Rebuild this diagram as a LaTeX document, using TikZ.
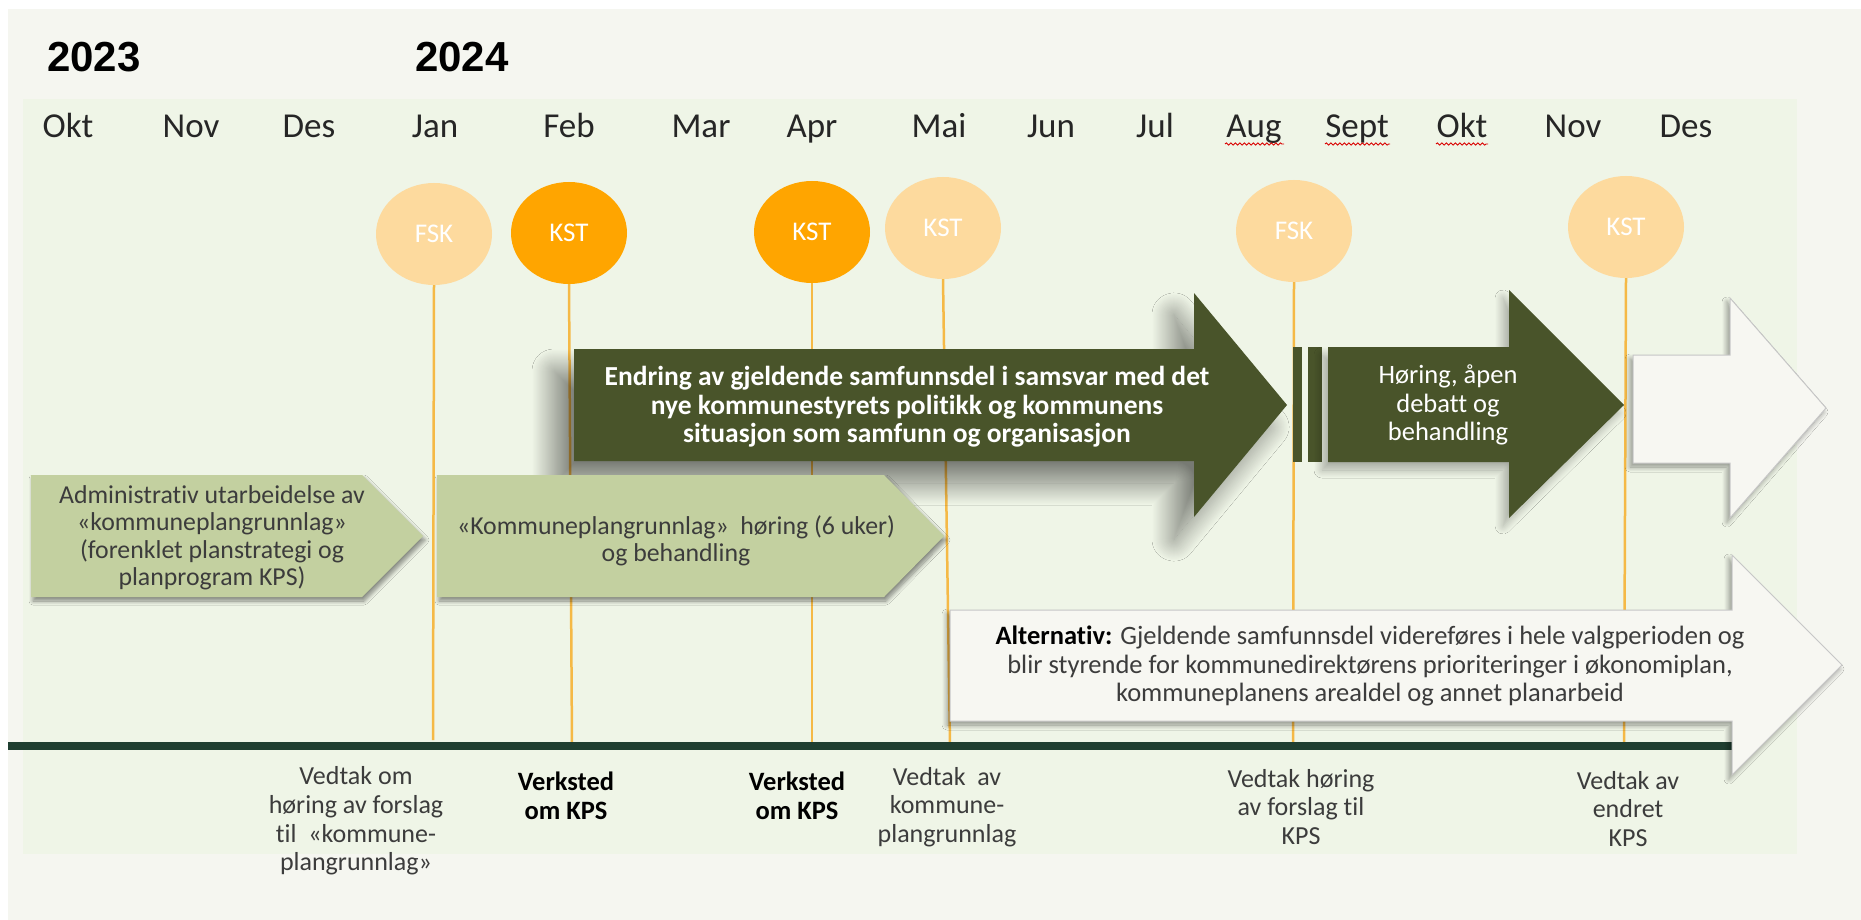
\documentclass[tikz,border=0pt]{standalone}
\usepackage{fontspec}
\setmainfont{Carlito}[Ligatures=NoCommon]
\newfontfamily\yearfont{Liberation Sans}
\usetikzlibrary{shapes.geometric,shadows,shadows.blur,decorations.pathmorphing}
\definecolor{outerbg}{RGB}{245,246,240}
\definecolor{innerbg}{RGB}{239,245,231}
\definecolor{lightorange}{RGB}{253,218,158}
\definecolor{darkorange}{RGB}{255,165,0}
\definecolor{lineorange}{RGB}{245,185,70}
\definecolor{darkolive}{RGB}{73,84,42}
\definecolor{sage}{RGB}{195,208,160}
\definecolor{timelinegreen}{RGB}{31,62,48}
\definecolor{arrowwhite}{RGB}{247,247,242}
\definecolor{txtgrey}{RGB}{60,60,60}
\begin{document}
\begin{tikzpicture}[x=1pt,y=-1pt,
  month/.style={anchor=base, inner sep=0pt, text=black!85, font=\fontsize{35}{40}\selectfont},
  yearlbl/.style={anchor=base, inner sep=0pt, font=\yearfont\bfseries\fontsize{42}{48}\selectfont},
  balloon/.style={ellipse, minimum width=116pt, minimum height=102pt, inner sep=0pt, text=white, font=\fontsize{27}{30}\selectfont},
  fsk/.style={balloon, fill=lightorange},
  kst/.style={balloon, fill=darkorange},
  stem/.style={draw=lineorange, line width=2.5pt},
  squiggle/.style={draw=red!85!black, line width=0.9pt, decorate, decoration={snake, segment length=4.5pt, amplitude=1.1pt}},
  sagearrow/.style={fill=sage, blur shadow={shadow xshift=2pt, shadow yshift=-4pt, shadow blur radius=4pt, shadow blur steps=12, shadow opacity=45}},
  darkarrow/.style={fill=darkolive, blur shadow={shadow xshift=-20pt, shadow yshift=-22pt, shadow blur radius=22pt, shadow blur steps=44, shadow opacity=50}},
  darkarrowb/.style={fill=darkolive, blur shadow={shadow xshift=-6pt, shadow yshift=-8pt, shadow blur radius=8pt, shadow blur steps=20, shadow opacity=30}},
  whitearrow/.style={fill=arrowwhite, draw=black!22, line width=1pt, blur shadow={shadow xshift=-3pt, shadow yshift=-4pt, shadow blur radius=5pt, shadow blur steps=12, shadow opacity=40}},
  boxtext/.style={align=center, inner sep=0pt, text=txtgrey, font=\fontsize{25.8}{27.5}\selectfont},
  whitetext/.style={align=center, inner sep=0pt, text=white, font=\fontsize{26.5}{28.5}\selectfont},
  boldwhite/.style={align=center, inner sep=0pt, text=white, font=\bfseries\fontsize{27.5}{28.5}\selectfont},
  bottomtxt/.style={align=center, inner sep=0pt, text=txtgrey, font=\fontsize{26}{28.7}\selectfont},
  bottombold/.style={align=center, inner sep=0pt, text=black, font=\bfseries\fontsize{26.5}{28.5}\selectfont}
]
\useasboundingbox (0,0) rectangle (1861,920);
% backgrounds
\fill[white] (0,0) rectangle (1861,920);
\fill[outerbg] (8,9) rectangle (1861,920);
\fill[innerbg] (23,99) rectangle (1797,854);

% years
\node[yearlbl] (y2023) at (94,72) {2023};
\node[yearlbl] (y2024) at (462,72) {2024};

% months
\node[month] (m1) at (68,138) {Okt};
\node[month] (m2) at (191,138) {Nov};
\node[month] (m3) at (309,138) {Des};
\node[month] (m4) at (435,138) {Jan};
\node[month] (m5) at (569,138) {Feb};
\node[month] (m6) at (701,138) {Mar};
\node[month] (m7) at (812,138) {Apr};
\node[month] (m8) at (939,138) {Mai};
\node[month] (m9) at (1051,138) {Jun};
\node[month] (m10) at (1155,138) {Jul};
\node[month] (m11) at (1254,138) {Aug};
\node[month] (m12) at (1357,138) {Sept};
\node[month] (m13) at (1462,138) {Okt};
\node[month] (m14) at (1573,138) {Nov};
\node[month] (m15) at (1686,138) {Des};
% spell-check marks
\draw[squiggle] (1225,144) -- (1284,144);
\draw[squiggle] (1325,144) -- (1390,144);
\draw[squiggle] (1436,144) -- (1488,144);

% balloons
\node[fsk] (b1) at (434,234) {FSK};
\node[kst] (b2) at (569,233) {KST};
\node[kst] (b3) at (812,232) {KST};
\node[fsk] (b4) at (943,228) {KST};
\node[fsk] (b5) at (1294,231) {FSK};
\node[fsk] (b6) at (1626,227) {KST};

% stem ends
\coordinate (e1) at (433,740);
\coordinate (e2) at (572,745);
\coordinate (e3) at (812,745);
\coordinate (e4) at (950,745);
\coordinate (e5) at (1293,745);
\coordinate (e6) at (1624,745);
\draw[stem] (b1.south) -- (e1);
\draw[stem] (b2.south) -- (e2);
\draw[stem] (b3.south) -- (e3);
\draw[stem] (b4.south) -- (e4);
\draw[stem] (b5.south) -- (e5);
\draw[stem] (b6.south) -- (e6);

% timeline
\coordinate (tl0) at (8,746);
\coordinate (tl1) at (1732,746);
\draw[timelinegreen, line width=8pt] (tl0) -- (tl1);

% dark arrow
\fill[darkarrow] (574,349) -- (1194,349) -- (1194,293) -- (1287,405) -- (1194,517) -- (1194,461) -- (574,461) -- cycle;
% bars and second dark arrow
\fill[darkolive] (1293,347) rectangle (1302,462);
\fill[darkolive] (1308,347) rectangle (1322,462);
\fill[darkarrowb] (1328,347) -- (1509,347) -- (1509,290) -- (1624,405) -- (1509,518) -- (1509,462) -- (1328,462) -- cycle;

% white arrow (top right)
\filldraw[whitearrow] (1633,355) -- (1730,355) -- (1730,298) -- (1826,408) -- (1730,518) -- (1730,463) -- (1633,463) -- cycle;

% sage arrows
\fill[sagearrow] (31,475) -- (362,475) -- (423,536) -- (362,597) -- (31,597) -- cycle;
\fill[sagearrow] (437,475) -- (884,475) -- (944,536) -- (884,597) -- (437,597) -- cycle;

% alternative arrow
\filldraw[whitearrow] (950,610) -- (1732,610) -- (1732,555) -- (1842,665) -- (1732,775) -- (1732,721) -- (950,721) -- cycle;

% texts in arrows
\node[boxtext] (t1) at (212,538) {Administrativ utarbeidelse av\\«kommuneplangrunnlag»\\(forenklet planstrategi og\\planprogram KPS)};
\node[boxtext] (t2) at (676,541) {«Kommuneplangrunnlag»~ høring (6 uker)\\og behandling};
\node[boldwhite] (t3) at (907,407) {Endring av gjeldende samfunnsdel i samsvar med det\\nye kommunestyrets politikk og kommunens\\situasjon som samfunn og organisasjon};
\node[whitetext] (t4) at (1448,405) {Høring, åpen\\debatt og\\behandling};
\node[boxtext, font=\fontsize{26.5}{28.5}\selectfont] (t5) at (1370,666) {\textbf{\color{black}Alternativ:} Gjeldende samfunnsdel videreføres i hele valgperioden og\\blir styrende for kommunedirektørens prioriteringer i økonomiplan,\\kommuneplanens arealdel og annet planarbeid};

% texts below the timeline
\node[bottomtxt] (u1) at (356,821) {Vedtak om\\høring av forslag\\til~ «kommune-\\plangrunnlag»};
\node[bottombold] (u2) at (566,796) {Verksted\\om KPS};
\node[bottombold] (u3) at (797,796) {Verksted\\om KPS};
\node[bottomtxt] (u4) at (947,807) {Vedtak~ av\\kommune-\\plangrunnlag};
\node[bottomtxt] (u5) at (1301,807) {Vedtak høring\\av forslag til\\KPS};
\node[bottomtxt] (u6) at (1628,809) {Vedtak av\\endret\\KPS};
\end{tikzpicture}
\end{document}
